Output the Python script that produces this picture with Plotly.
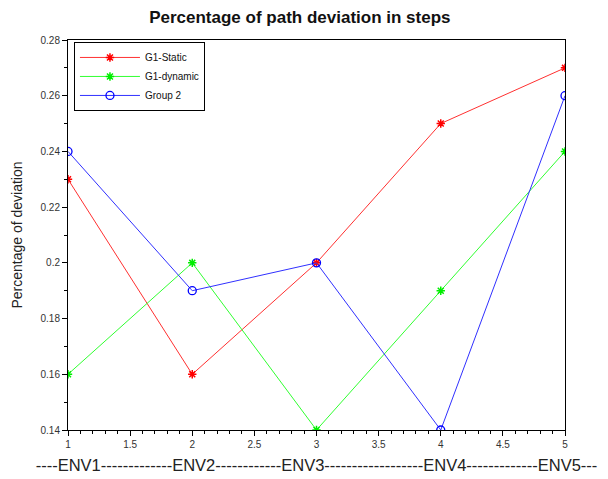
import plotly.graph_objects as go

x = [1, 2, 3, 4, 5]
g1_static = [0.23, 0.16, 0.20, 0.25, 0.27]
g1_dynamic = [0.16, 0.20, 0.14, 0.19, 0.24]
group2 = [0.24, 0.19, 0.20, 0.14, 0.26]
x_ticks = [1, 1.5, 2, 2.5, 3, 3.5, 4, 4.5, 5]
x_tick_labels = ["1", "1.5", "2", "2.5", "3", "3.5", "4", "4.5", "5"]
y_ticks = [0.14, 0.16, 0.18, 0.2, 0.22, 0.24, 0.26, 0.28]
y_tick_labels = ["0.14", "0.16", "0.18", "0.2", "0.22", "0.24", "0.26", "0.28"]
x_title = "----ENV1-------------ENV2------------ENV3------------------ENV4-------------ENV5---"

fig = go.Figure()
fig.add_trace(go.Scatter(x=x, y=g1_static, name="G1-Static", mode="lines+markers",
                         line=dict(color="#ff3030", width=1),
                         marker=dict(symbol="asterisk", size=7, color="#ff0000",
                                     line=dict(color="#ff0000", width=1.5))))
fig.add_trace(go.Scatter(x=x, y=g1_dynamic, name="G1-dynamic", mode="lines+markers",
                         line=dict(color="#30ff30", width=1),
                         marker=dict(symbol="asterisk", size=7, color="#00ee00",
                                     line=dict(color="#00ee00", width=1.5))))
fig.add_trace(go.Scatter(x=x, y=group2, name="Group 2", mode="lines+markers",
                         line=dict(color="#3030ff", width=1),
                         marker=dict(symbol="circle-open", size=8, color="#0000ff",
                                     line=dict(color="#0000ff", width=1.3))))

fig.update_layout(
    width=608, height=479,
    margin=dict(l=60, r=51, t=32, b=57),
    paper_bgcolor="white", plot_bgcolor="white",
    font=dict(family="Liberation Sans, Arial, sans-serif", color="#222"),
    title=dict(text="<b>Percentage of path deviation in steps</b>", x=0.48, xanchor="center",
               y=0.981, yanchor="middle", font=dict(size=17, color="#111")),
    legend=dict(x=0.012, y=0.995, xanchor="left", yanchor="top",
                bordercolor="black", borderwidth=1, bgcolor="white",
                font=dict(size=10, color="#111"), tracegroupgap=0,
                itemwidth=60),
    xaxis=dict(range=[1, 5], tickvals=x_ticks, ticktext=x_tick_labels,
               showgrid=False, zeroline=False, showline=True, linecolor="black",
               linewidth=1, mirror=True, ticks="outside", ticklen=5, tickcolor="black",
               minor=dict(dtick=0.1, ticks="outside", ticklen=3, tickcolor="black"),
               tickfont=dict(size=10, color="#333"), automargin=False,
               title=dict(text=x_title, font=dict(size=16.5, color="#222"), standoff=10)),
    yaxis=dict(range=[0.14, 0.28], tickvals=y_ticks, ticktext=y_tick_labels,
               showgrid=False, zeroline=False, showline=True, linecolor="black",
               linewidth=1, mirror=True, ticks="outside", ticklen=5, tickcolor="black",
               minor=dict(dtick=0.01, ticks="outside", ticklen=3, tickcolor="black"),
               tickfont=dict(size=10, color="#333"), automargin=False,
               title=dict(text="Percentage of deviation", font=dict(size=14, color="#222"),
                          standoff=14)),
)

fig.write_html("out.html")
